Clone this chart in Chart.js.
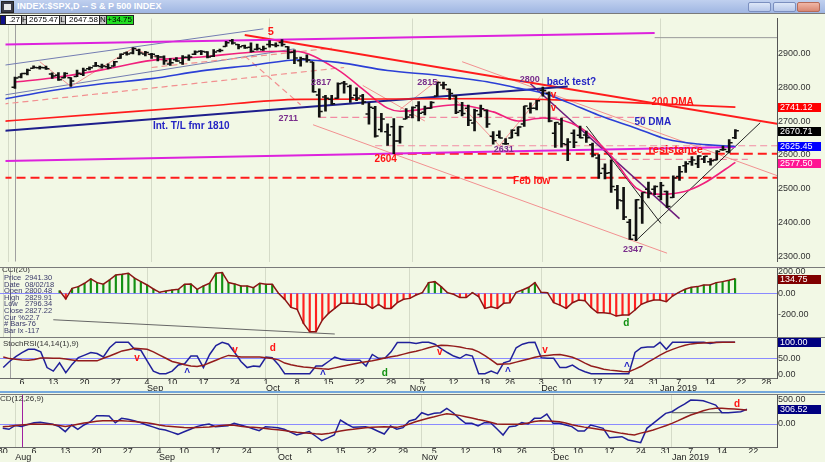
<!DOCTYPE html>
<html>
<head>
<meta charset="utf-8">
<title>$SPX daily</title>
<script src="https://cdn.jsdelivr.net/npm/chart.js@4.4.1/dist/chart.umd.min.js"></script>
<style>
  html, body { margin: 0; padding: 0; }
  body { width: 825px; height: 462px; position: relative; overflow: hidden; background: #f2f8e5;
         font-family: 'Liberation Sans', Arial, sans-serif; }
  .abs { position: absolute; }
  canvas { position: absolute; left: 0; display: block; }
  .sep { position: absolute; left: 0; width: 825px; height: 1px; background: #7a7a7a; z-index: 3; }
  #titlebar { left: 0; top: 0; width: 825px; height: 13px; background: linear-gradient(#c0d0ef, #9fb6e2); z-index: 4; }
  #title { left: 17px; top: 1px; color: #fff; font: bold 9px 'Liberation Sans', Arial, sans-serif; white-space: nowrap; }
  #icon { left: 1px; top: 1px; width: 11px; height: 10px; background: #3a3a48; border: 1px solid #222; }
  #icon i { position: absolute; left: 2px; top: 2px; width: 7px; height: 6px; background: #e8e8e8; }
  .btn { top: 2px; width: 21px; height: 8px; border: 1px solid #7b8fbf; border-radius: 2px;
         background: linear-gradient(#dde7f8, #b8c8ea); }
  .btn.close { background: linear-gradient(#f0b6a6, #d98874); border-color: #b56b5a; }
  #strip { left: 0; top: 15px; height: 9px; z-index: 4; font: 8px 'Liberation Sans', Arial, sans-serif; }
  #strip span { position: absolute; top: 0; height: 8px; line-height: 8px; border: 1px solid #222;
                background: #fff; color: #000; text-align: right; padding-right: 1px; box-sizing: content-box; }
  #strip span.k { background: #c8c8c8; text-align: center; padding: 0; }
  .lbl { position: absolute; z-index: 3; color: #333; font: 8px 'Liberation Sans', Arial, sans-serif; white-space: nowrap; }
  #info div { position: absolute; font: 7.5px 'Liberation Sans', Arial, sans-serif; color: #3a3a6a; white-space: nowrap; }
</style>
</head>
<body>
<div id="titlebar" class="abs">
  <div id="icon" class="abs"><i></i></div>
  <div id="title" class="abs">INDEX:$SPX,D -- S &amp; P 500 INDEX</div>
  <div class="abs btn" style="left:748px"></div>
  <div class="abs btn" style="left:773px"></div>
  <div class="abs btn close" style="left:797px"></div>
</div>
<div id="strip" class="abs">
  <span style="left:0;width:4px;background:#10108a"></span>
  <span style="left:5px;width:14px">.27</span>
  <span class="k" style="left:21px;width:4px">H</span>
  <span style="left:26px;width:31px">2675.47</span>
  <span class="k" style="left:59px;width:5px">L</span>
  <span style="left:65px;width:32px">2647.58</span>
  <span class="k" style="left:99px;width:6px">N</span>
  <span style="left:106px;width:25px;background:#22dd22">+34.75</span>
</div>

<canvas id="price" width="825" height="254" style="top:13px"></canvas>
<canvas id="cci" width="825" height="71" style="top:267px"></canvas>
<canvas id="stoch" width="825" height="54" style="top:338px"></canvas>
<canvas id="macd" width="825" height="68" style="top:394px"></canvas>

<div class="sep" style="top:13px"></div>
<div class="sep" style="top:267px"></div>
<div class="sep" style="top:337px"></div>
<div class="sep" style="top:391px;height:2px;background:#74a8dc"></div>
<div class="sep" style="top:394px"></div>

<div class="lbl" style="left:2px;top:268px;height:5px;overflow:hidden"><div style="margin-top:-3px">CCI(20)</div></div>
<div id="info" class="abs" style="left:0;top:0;z-index:3"></div>
<div class="lbl" style="left:3px;top:339px">StochRSI(14,14(1),9)</div>
<div class="lbl" style="left:0;top:394px">CD(12,26,9)</div>

<script>
const FONT = "'Liberation Sans', Arial, sans-serif";

// ── trading days on the x axis ──
const days = ['7/27','7/30','7/31','8/1','8/2','8/3','8/6','8/7','8/8','8/9','8/10','8/13','8/14','8/15','8/16','8/17',
  '8/20','8/21','8/22','8/23','8/24','8/27','8/28','8/29','8/30','8/31','9/4','9/5','9/6','9/7','9/10','9/11','9/12',
  '9/13','9/14','9/17','9/18','9/19','9/20','9/21','9/24','9/25','9/26','9/27','9/28','10/1','10/2','10/3','10/4',
  '10/5','10/8','10/9','10/10','10/11','10/12','10/15','10/16','10/17','10/18','10/19','10/22','10/23','10/24',
  '10/25','10/26','10/29','10/30','10/31','11/1','11/2','11/5','11/6','11/7','11/8','11/9','11/12','11/13','11/14',
  '11/15','11/16','11/19','11/20','11/21','11/23','11/26','11/27','11/28','11/29','11/30','12/3','12/4','12/6',
  '12/7','12/10','12/11','12/12','12/13','12/14','12/17','12/18','12/19','12/20','12/21','12/24','12/26','12/27',
  '12/28','12/31','1/2','1/3','1/4','1/7','1/8','1/9','1/10','1/11','1/14','1/15','1/16','1/17','1/18','1/22',
  '1/23','1/24','1/25','1/28','1/29','1/30'];
const dayAt = d => days.indexOf(d);

const dayTicks = ['7/30','8/6','8/13','8/20','8/27','9/4','9/10','9/17','9/24','10/1','10/8','10/15','10/22','10/29',
  '11/5','11/12','11/19','11/26','12/3','12/10','12/17','12/24','12/31','1/7','1/14','1/22','1/28'];
const dayText = ['30','6','13','20','27','4','10','17','24','1','8','15','22','29','5','12','19','26','3','10','17',
  '24','31','7','14','22','28'];
const monthTicks = ['8/1','9/4','10/1','11/1','12/3','1/2'];
const monthText = ['Aug','Sep','Oct','Nov','Dec','Jan 2019'];

// ── daily bars, from 8/2 ──
const barStart = '8/2';
const opens = [2800,2830,2840,2856,2857,2857,2839,2835,2828,2828,2831,2838,2854,2862,2861,2860,2862,2885,2901,2901,2909,2898,
  2897,2892,2889,2868,2881,2872,2888,2897,2906,2904,2891,2907,2920,2937,2926,2922,2918,2912,2910,
  2926,2924,2932,2919,2903,2878,2883,2874,2777,2771,2764,2767,2812,2802,2776,2774,2721,2738,2675,2668,2683,2641,2706,
  2718,2745,2726,2738,2774,2806,2794,2774,2730,2738,2694,2719,2731,2655,2658,2633,2650,2664,2691,2737,2738,
  2791,2782,2664,2691,2631,2664,2658,2659,2630,2591,2560,2547,2497,2465,2401,2363,2443,2499,2499,
  2477,2492,2474,2536,2568,2580,2574,2588,2580,2585,2615,2609,2651];
const highs = [2830,2840,2853,2863,2862,2862,2842,2843,2843,2828,2850,2856,2860,2873,2868,2869,2876,2898,2904,2917,2912,2906,
  2900,2894,2892,2884,2887,2893,2895,2907,2908,2905,2911,2912,2935,2941,2926,2924,2931,2927,2921,
  2937,2931,2940,2920,2910,2889,2895,2874,2795,2776,2776,2813,2817,2806,2798,2779,2754,2743,2723,2692,2707,2685,2737,
  2742,2757,2744,2757,2815,2815,2794,2776,2755,2747,2735,2747,2733,2669,2671,2648,2674,2683,2744,2754,2761,
  2800,2786,2696,2709,2648,2674,2685,2670,2635,2601,2574,2585,2510,2504,2410,2468,2489,2520,2509,
  2519,2493,2538,2566,2580,2595,2598,2596,2589,2613,2626,2645,2675];
const lows = [2796,2827,2836,2856,2853,2852,2826,2820,2827,2802,2831,2834,2851,2861,2856,2854,2862,2885,2894,2898,2895,2892,
  2885,2877,2867,2864,2876,2867,2879,2896,2896,2886,2890,2904,2920,2927,2913,2914,2903,2909,2908,
  2918,2919,2921,2884,2869,2862,2874,2785,2711,2729,2749,2767,2782,2755,2760,2749,2691,2652,2668,2628,2604,2635,2706,
  2709,2700,2718,2737,2774,2795,2764,2722,2715,2686,2671,2712,2681,2632,2650,2631,2650,2656,2684,2723,2733,
  2773,2697,2622,2623,2583,2621,2650,2637,2594,2531,2529,2489,2441,2409,2351,2347,2398,2473,2483,
  2467,2444,2474,2525,2548,2569,2562,2577,2570,2585,2613,2606,2648];
const closes = [2827,2840,2850,2858,2858,2854,2833,2822,2840,2818,2841,2850,2857,2863,2862,2857,2875,2897,2898,2914,2901,2902,
  2897,2889,2878,2872,2877,2888,2889,2904,2905,2889,2904,2908,2931,2930,2919,2916,2906,2914,2914,
  2925,2923,2926,2902,2886,2884,2880,2786,2728,2767,2751,2810,2809,2769,2768,2756,2741,2656,2706,2659,2641,2683,2712,
  2740,2723,2738,2755,2814,2807,2781,2726,2722,2702,2730,2736,2691,2642,2650,2633,2673,2682,2744,2738,2760,
  2790,2700,2696,2633,2638,2637,2651,2651,2600,2546,2546,2507,2467,2417,2351,2468,2489,2486,2507,
  2510,2448,2532,2550,2574,2585,2597,2596,2583,2610,2616,2636,2671];

// ── moving averages, read at sample days ──
const ma50Days = ['7/31','8/10','8/22','9/4','9/14','9/26','10/8','10/16','10/26','11/7','11/19','11/27','12/3','12/10',
  '12/17','12/26','1/3','1/10','1/18'];
const ma50 = [2764,2790,2810,2825,2848,2864,2881,2873,2849,2835,2816,2797,2783,2755,2717,2679,2646,2632,2625];
const ma200Days = ['7/31','8/22','9/14','10/8','10/30','11/21','12/4','12/28','1/18'];
const ma200 = [2699,2721,2743,2764,2765,2766,2763,2752,2741];
const maShortDays = ['8/2','8/10','8/22','9/4','9/14','9/26','10/5','10/16','10/22','10/26','10/30','11/2','11/7','11/12',
  '11/20','11/27','12/3','12/12','12/19','12/26','1/2','1/8','1/11','1/18'];
const maShort = [2815,2827,2851,2879,2889,2903,2906,2851,2794,2738,2729,2733,2743,2748,2727,2700,2709,2681,2597,2503,
  2484,2493,2517,2578];

// ── drawn trendlines [from day, price, to day, price] ──
const magentaLines = [['7/31',2926,'12/31',2960], ['7/31',2582,'1/18',2623]];
const navyLines = [['7/31',2671,'12/10',2802]];
const redLines = [['9/25',2954,'1/30',2691]];
const blackLines = [['12/26',2347,'1/25',2695], ['12/13',2685,'1/2',2398]];
const purpleLines = [['11/29',2810,'1/7',2412]];
const salmonLines = [['10/10',2689,'1/3',2310], ['11/13',2875,'1/30',2537], ['11/21',2627,'12/3',2782],
  ['10/30',2734,'11/7',2820], ['11/7',2820,'11/21',2627], ['10/22',2805,'11/5',2700],
  ['8/8',2875,'8/15',2802], ['8/15',2802,'8/29',2915], ['8/29',2915,'9/7',2870]];
const salmonDashLines = [['7/31',2750,'10/17',2858], ['9/4',2858,'10/15',2915], ['9/25',2892,'10/8',2748]];
const slateLines = [['7/31',2864,'9/28',2972], ['7/31',2776,'10/5',2913]];
// horizontal levels [price, from day, to day]
const redLevels = [[2532.69,'7/31','1/30'], [2603.54,'10/29','1/30']];
const pinkLevels = [[2711,'10/11','12/28'], [2627,'10/24','1/30'], [2587,'12/17','1/23']];
const grayLevels = [[2946,'12/31','1/30']];

// ── text notes [text, day position, value] ──
const purpleNotes = [['2817',53.3,2813], ['2815',70.4,2813], ['2800',86.9,2822], ['2711',48.0,2706],
  ['2631',82.7,2616], ['2347',103.5,2322]];
const redNotes = [['2604',63.7,2587], ['200 DMA',109.9,2754], ['Feb low',87.2,2522], ['v',90.7,2777], ['v',90.7,2737]];
const blueNotes = [['Int. T/L fmr 1810',32.4,2686], ['back test?',93.6,2813], ['50 DMA',106.7,2695]];
const bigNotes = [['5',45.2,2963], ['resistance',110.4,2616]];
const priceTags = [2741.12, 2670.71, 2625.45, 2577.50];

// ── CCI(20) from 8/14 ──
const cciStart = '8/14';
const cci = [24,-53,46,62,93,133,99,84,124,170, 177,186,140,108,77,40,9,21,31,37, 84,87,37,68,93,186,192,99,87,68,
  68,52,93,84,84,0,-56,-130,-149,-279, -357,-357,-248,-186,-140,-93,-93,-93,-102,-102,
  -140,-102,-140,-140,-87,-56,-47,-16,6,99, 108,62,6,-9,-40,-40,6,-31,-140,-124,
  -140,-93,-87,9,31,56,99,9,6,-87, -109,-140,-87,-62,-68,-133,-180,-180,-186,-211,
  -202,-202,-155,-102,-78,-62,-62,-78,-25,9, 37,56,62,77,77,99,108,120,135];
const cciLines = [['8/13',-245,'10/16',-377]];

// ── StochRSI(14,14,9) from 8/1 ──
const stochStart = '8/1';
const stochK = [21,40,55,68,78,78,70,21,10,36, 5,31,52,60,68,65,54,83,100,100, 100,78,75,42,10,2,2,10,29,33,
  57,57,21,62,90,100,94,68,40,21, 26,24,54,52,30,2,2,2,2,2, 26,26,40,54,47,44,44,44,26,62,
  50,50,70,99,99,99,96,100,100,94, 80,68,57,50,62,57,2,2,10,2, 36,42,83,94,99,100,52,50,50,21,
  21,29,16,8,2,2,2,2,2,2, 2,68,83,85,85,100,78,100,100,100, 100,100,100,96,100,100,100,100];
const stochD = [54,49,47,45,44,46,51,51,50,50, 48,45,42,42,42,42,50,57,65,73, 77,81,80,78,70,60,50,40,35,30,
  26,24,28,36,44,52,59,57,54,54, 54,54,52,49,45,35,30,26,23,21, 19,17,16,20,24,28,32,36,39,42,
  46,51,55,58,63,68,72,77,83,88, 91,90,88,85,81,78,70,58,45,31, 32,33,38,43,48,53,57,59,61,62,
  58,53,45,35,26,21,16,13,11,9, 8,16,25,37,48,60,70,78,85,91, 95,97,98,99,99,100,100,100];
const stochRedNotes = [['v',24.4,51], ['v',40.05,76], ['d',46.1,82], ['v',72.8,70], ['v',89.6,76]];
const stochBlueNotes = [['^',32.4,4], ['^',54.1,-2], ['^',83.7,7], ['^',102.7,23]];
const stochGreenNotes = [['d',64.0,4]];

// ── MACD(12,26,9) from 7/30 ──
const macdStart = '7/30';
const macdLine = [-90,-110,-30,-50,-10,28,35,15,-7,-55, -159,-21,-110,-20,48,173,170,166,28,118,
  100,69,30,-21,-60,-104,-125,-170,-215,-160, -110,-55,-20,0,-55,-45,-35,14,-20,-55,
  -100,-139,-55,-65,-76,-110,-170,-229,-194,-159, -250,-347,-290,-229,83,0,-69,-62,-55,-90,
  -150,-208,-42,-110,-76,62,97,235,187,222, 235,326,235,118,14,14,-42,28,28,-100,
  -229,-55,-42,28,0,118,118,208,14,14, -20,-55,-146,-146,-21,-55,-90,-284,-274,-264,
  -333,-360,-388,-90,14,118,222,256,340,416, 499,495,485,440,395,235,235,245,256,306];
const macdSignal = [-55,-45,-30,-21,-10,0,-3,-5,-10,-30, -50,-30,-5,20,35,55,69,69,69,69,
  60,50,38,25,5,-20,-40,-50,-60,-72, -76,-74,-70,-60,-45,-30,-22,-25,-45,-60,
  -69,-80,-95,-108,-120,-135,-155,-170,-180,-192, -205,-213,-200,-170,-145,-125,-110,-92,-80,-70,
  -60,-55,-62,-70,-40,0,48,85,120,150, 185,215,200,180,152,125,95,70,35,0,
  -7,-7,-7,-7,20,50,69,62,55,48, 20,-15,-42,-65,-85,-105,-125,-145,-170,-195,
  -215,-229,-190,-160,-125,-80,-35,14,70,130, 187,230,275,310,326,326,320,310,300,291];
const macdLevels = [[235,'1/2','1/14']];

// CCI panel info box
const infoLabels = ['Price','Date','Open','High','Low','Close','Cur %','# Bars','Bar Ix'];
const infoValues = ['2941.30','08/02/18','2800.48','2829.91','2796.34','2827.22','22.7','-76','-117'];

// ─────────────────────────────────────────────
const COL = {
  bars: '#111111', ma50: '#2b3fd6', ma200: '#ff1c1c', maShort: '#f0207c', magenta: '#dd22dd',
  navy: '#1e1e8c', red: '#ff1c1c', black: '#222222', purple: '#6c1c7c', salmon: '#f29090',
  slate: '#737cb2', pinkDash: '#f38ba4', gray: '#9a9a9a', grid: 'rgba(110,120,100,0.22)',
  zero: '#8a8aff', up: '#139113', down: '#ff2020', cciLine: '#8b1414', kLine: '#20209a',
  dLine: '#931c1c', text: '#7a2e8c', blueText: '#2424c4', redText: '#ff1414', greenText: '#119011',
};

const series = (start, vals) => vals.map((v, i) => ({ x: dayAt(start) + i, y: v }));
const sampled = (ds, vals) => ds.map((d, i) => ({ x: dayAt(d), y: vals[i] }));
const segment = ([d0, p0, d1, p1]) => [{ x: dayAt(d0), y: p0 }, { x: dayAt(d1), y: p1 }];
const level = ([p, d0, d1]) => [{ x: dayAt(d0), y: p }, { x: dayAt(d1), y: p }];

function lineDs(data, color, width, order, extra) {
  return Object.assign({
    type: 'line', data, borderColor: color, borderWidth: width, pointRadius: 0, pointHoverRadius: 0,
    fill: false, tension: 0, order,
  }, extra || {});
}

function ticksAt(list) {
  return scale => {
    scale.ticks = list.map(d => ({ value: dayAt(d) }))
      .filter(t => t.value >= scale.min && t.value <= scale.max);
  };
}

function hiddenX(min, max) {
  return {
    type: 'linear', min, max, offset: false,
    afterBuildTicks: ticksAt(monthTicks),
    afterFit: s => { s.height = 0; s.paddingLeft = 0; s.paddingRight = 0; },
    ticks: { display: false },
    grid: { display: true, drawTicks: false, color: COL.grid, offset: false },
    border: { display: false },
  };
}

function dayAxes(min, max, months, dayH, monthH) {
  return {
    x: {
      type: 'linear', position: 'bottom', weight: 0, min, max, offset: false,
      afterBuildTicks: ticksAt(dayTicks),
      afterFit: s => { s.height = dayH; s.paddingLeft = 0; s.paddingRight = 0; },
      ticks: { autoSkip: false, maxRotation: 0, padding: 0, color: '#222',
               font: { family: FONT, size: 9, lineHeight: 1 },
               callback: v => dayText[dayTicks.indexOf(days[v])] },
      grid: { display: false, drawTicks: false },
      border: { display: true, color: '#6a6a6a' },
    },
    xm: {
      type: 'linear', position: 'bottom', weight: 1, min, max, offset: false,
      afterBuildTicks: ticksAt(months),
      afterFit: s => { s.height = monthH; s.paddingLeft = 0; s.paddingRight = 0; },
      ticks: { autoSkip: false, maxRotation: 0, padding: 0, align: 'start', color: '#222',
               font: { family: FONT, size: 9, lineHeight: 1 },
               callback: v => monthText[monthTicks.indexOf(days[v])] },
      grid: { display: true, drawTicks: false, color: COL.grid, offset: false },
      border: { display: false },
    },
  };
}

function rightAxis(min, max, values, zeroAt) {
  return {
    type: 'linear', position: 'right', min, max,
    afterBuildTicks: s => { s.ticks = values.map(v => ({ value: v })); },
    afterFit: s => { s.width = 48; s.paddingTop = 0; s.paddingBottom = 0; },
    ticks: { callback: v => v.toFixed(2), color: '#333', padding: 1, font: { family: FONT, size: 9 } },
    grid: {
      display: zeroAt !== undefined, drawTicks: false, lineWidth: 1,
      color: c => (c.tick && c.tick.value === zeroAt) ? COL.zero : 'rgba(0,0,0,0)',
    },
    border: { display: true, color: '#555' },
  };
}

function notesPlugin(groups, cursorColor) {
  return {
    id: 'notes',
    beforeDatasetsDraw(chart) {
      if (!cursorColor) return;
      const { ctx, chartArea: a, scales: { x } } = chart;
      const px = Math.round(x.getPixelForValue(dayAt(barStart))) + 0.5;
      ctx.save();
      ctx.strokeStyle = cursorColor; ctx.lineWidth = 1;
      ctx.beginPath(); ctx.moveTo(px, a.top); ctx.lineTo(px, a.bottom); ctx.stroke();
      ctx.restore();
    },
    afterDatasetsDraw(chart) {
      const { ctx, scales: { x, y } } = chart;
      ctx.save();
      ctx.textAlign = 'center'; ctx.textBaseline = 'middle';
      for (const g of groups) {
        ctx.fillStyle = g.color; ctx.font = g.font;
        for (const [t, at, v] of g.items) ctx.fillText(t, x.getPixelForValue(at), y.getPixelForValue(v));
      }
      ctx.restore();
    },
  };
}

function tagsPlugin(values, colors) {
  return {
    id: 'tags',
    afterDraw(chart) {
      const { ctx, chartArea: a, scales: { y } } = chart;
      ctx.save();
      ctx.font = `9px ${FONT}`; ctx.textBaseline = 'middle'; ctx.textAlign = 'left';
      values.forEach((v, i) => {
        const py = Math.round(y.getPixelForValue(v));
        ctx.fillStyle = colors[i]; ctx.fillRect(a.right + 1, py - 4, 43, 9);
        ctx.fillStyle = '#fff'; ctx.fillText(v.toFixed(2), a.right + 3, py + 0.5);
      });
      ctx.restore();
    },
  };
}

const common = {
  responsive: false, animation: false, events: [],
  layout: { padding: 0 },
  plugins: { legend: { display: false }, tooltip: { enabled: false } },
};

// main panel x range (left/right edge in trading-day units)
const X0 = 2.48, X1 = 126.7;
// MACD window is scrolled two bars further
const M0 = 0.56, M1 = 124.8;

// ── PRICE PANEL ──
(function () {
  const first = dayAt(barStart);
  const datasets = [
    { type: 'bar', data: highs.map((h, i) => ({ x: first + i, y: [lows[i], h] })), backgroundColor: COL.bars,
      barThickness: 2, grouped: false, order: 0 },
    { type: 'scatter', data: opens.map((v, i) => ({ x: first + i - 0.28, y: v })), pointStyle: 'line',
      pointRadius: 1.7, pointBorderWidth: 1.5, pointBorderColor: COL.bars, order: 0 },
    { type: 'scatter', data: closes.map((v, i) => ({ x: first + i + 0.28, y: v })), pointStyle: 'line',
      pointRadius: 1.7, pointBorderWidth: 1.5, pointBorderColor: COL.bars, order: 0 },
    lineDs(sampled(ma50Days, ma50), COL.ma50, 1.6, 1, { cubicInterpolationMode: 'monotone' }),
    lineDs(sampled(ma200Days, ma200), COL.ma200, 1.6, 1, { cubicInterpolationMode: 'monotone' }),
    lineDs(sampled(maShortDays, maShort), COL.maShort, 1.6, 1, { cubicInterpolationMode: 'monotone' }),
  ];
  magentaLines.forEach(l => datasets.push(lineDs(segment(l), COL.magenta, 2, 3)));
  navyLines.forEach(l => datasets.push(lineDs(segment(l), COL.navy, 2, 3)));
  redLines.forEach(l => datasets.push(lineDs(segment(l), COL.red, 2, 3)));
  blackLines.forEach(l => datasets.push(lineDs(segment(l), COL.black, 1, 3)));
  purpleLines.forEach(l => datasets.push(lineDs(segment(l), COL.purple, 1.5, 3)));
  salmonLines.forEach(l => datasets.push(lineDs(segment(l), COL.salmon, 1, 4)));
  salmonDashLines.forEach(l => datasets.push(lineDs(segment(l), COL.salmon, 1.2, 4, { borderDash: [6, 4] })));
  slateLines.forEach(l => datasets.push(lineDs(segment(l), COL.slate, 1, 4)));
  redLevels.forEach(l => datasets.push(lineDs(level(l), COL.red, 2, 3, { borderDash: [9, 5] })));
  pinkLevels.forEach(l => datasets.push(lineDs(level(l), COL.pinkDash, 1.2, 4, { borderDash: [7, 4] })));
  grayLevels.forEach(l => datasets.push(lineDs(level(l), COL.gray, 1, 4)));

  new Chart(document.getElementById('price'), {
    type: 'bar',
    data: { datasets },
    options: Object.assign({}, common, {
      scales: { x: hiddenX(X0, X1), y: rightAxis(2285.5, 3002.5, [2300, 2400, 2500, 2600, 2700, 2800, 2900]) },
    }),
    plugins: [
      notesPlugin([
        { color: COL.text, font: `bold 9px ${FONT}`, items: purpleNotes },
        { color: COL.redText, font: `bold 10px ${FONT}`, items: redNotes },
        { color: COL.blueText, font: `bold 10px ${FONT}`, items: blueNotes },
        { color: COL.redText, font: `bold 11px ${FONT}`, items: bigNotes },
      ], '#a0a0a0'),
      tagsPlugin(priceTags, ['#ff0000', '#000000', '#0000ff', '#ff1493']),
    ],
  });
})();

// ── CCI PANEL ──
new Chart(document.getElementById('cci'), {
  type: 'bar',
  data: {
    datasets: [
      lineDs(series(cciStart, cci), COL.cciLine, 1.5, 0),
      { type: 'bar', data: series(cciStart, cci), backgroundColor: cci.map(v => v >= 0 ? COL.up : COL.down),
        barThickness: 1.5, grouped: false, order: 1 },
      ...cciLines.map(l => lineDs(segment(l), '#666', 1, 2)),
    ],
  },
  options: Object.assign({}, common, {
    scales: { x: hiddenX(X0, X1), y: rightAxis(-413.9, 243.5, [-200, 0, 200], 0) },
  }),
  plugins: [
    notesPlugin([{ color: COL.greenText, font: `bold 10px ${FONT}`, items: [['d', 102.6, -278]] }], '#a0a0a0'),
    tagsPlugin([134.75], ['#800000']),
  ],
});

// ── STOCH RSI PANEL ──
new Chart(document.getElementById('stoch'), {
  type: 'line',
  data: {
    datasets: [
      lineDs(series(stochStart, stochD), COL.dLine, 1.5, 0),
      lineDs(series(stochStart, stochK), COL.kLine, 1.5, 1),
    ],
  },
  options: Object.assign({}, common, {
    scales: Object.assign(dayAxes(X0, X1, monthTicks.slice(1), 6, 8),
      { y: rightAxis(-11.6, 113.4, [0, 50, 100], 50) }),
  }),
  plugins: [
    notesPlugin([
      { color: COL.redText, font: `bold 10px ${FONT}`, items: stochRedNotes },
      { color: COL.blueText, font: `bold 10px ${FONT}`, items: stochBlueNotes },
      { color: COL.greenText, font: `bold 10px ${FONT}`, items: stochGreenNotes },
    ], '#a0a0a0'),
    tagsPlugin([100], ['#000080']),
  ],
});

// ── MACD PANEL ──
new Chart(document.getElementById('macd'), {
  type: 'line',
  data: {
    datasets: [
      lineDs(series(macdStart, macdSignal), COL.dLine, 1.5, 0),
      lineDs(series(macdStart, macdLine), COL.kLine, 1.5, 1),
      ...macdLevels.map(l => lineDs(level(l), '#555', 1, 2)),
    ],
  },
  options: Object.assign({}, common, {
    scales: Object.assign(dayAxes(M0, M1, monthTicks, 6, 9),
      { y: rightAxis(-479, 625, [0, 500], 0) }),
  }),
  plugins: [
    notesPlugin([{ color: COL.redText, font: `bold 10px ${FONT}`, items: [['d', 118.4, 417]] }], '#a020a0'),
    tagsPlugin([306.52], ['#000080']),
  ],
});

// CCI info box text
const info = document.getElementById('info');
infoLabels.forEach((t, i) => {
  const top = 273 + i * 6.6;
  info.insertAdjacentHTML('beforeend',
    `<div style="left:4px;top:${top}px">${t}</div><div style="left:25px;top:${top}px">${infoValues[i]}</div>`);
});
</script>
</body>
</html>
